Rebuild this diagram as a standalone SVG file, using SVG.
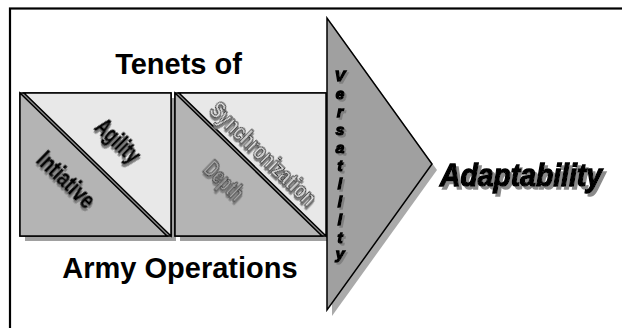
<svg xmlns="http://www.w3.org/2000/svg" width="622" height="328" viewBox="0 0 622 328">
<defs>
<filter id="sh" filterUnits="userSpaceOnUse" x="-100" y="-100" width="900" height="600">
<feOffset in="SourceAlpha" dx="2" dy="2" result="o"/>
<feFlood flood-color="#808080"/>
<feComposite in2="o" operator="in" result="s"/>
<feMerge><feMergeNode in="s"/><feMergeNode in="SourceGraphic"/></feMerge>
</filter>
<filter id="sh3" filterUnits="userSpaceOnUse" x="-100" y="-100" width="900" height="600">
<feOffset in="SourceAlpha" dx="3" dy="3" result="o"/>
<feFlood flood-color="#8a8a8a"/>
<feComposite in2="o" operator="in" result="s"/>
<feMerge><feMergeNode in="s"/><feMergeNode in="SourceGraphic"/></feMerge>
</filter>
</defs>
<style>
.title{font-family:"Liberation Sans",Arial,sans-serif;font-weight:bold;font-size:29px;fill:#000;text-anchor:middle}
.tri{font-family:"Liberation Sans",Arial,sans-serif;font-weight:bold;font-size:24px;text-anchor:middle}
.blk{fill:#000;stroke:#000;stroke-width:0.9}
.out1{fill:#e4e4e4;stroke:#222;stroke-width:1}
.out2{fill:#a8a8a8;stroke:#333;stroke-width:1}
.vers{font-family:"Liberation Sans",Arial,sans-serif;font-weight:bold;font-style:italic;font-size:15.5px;text-anchor:middle;fill:#000;stroke:#000;stroke-width:1.4}
.light{fill:#e8e8e8;stroke:#000;stroke-width:1.5}
.dark{fill:#b4b4b4;stroke:#000;stroke-width:1.5}
.shadow{fill:#a0a0a0}
</style>
<rect x="10" y="8.5" width="700" height="400" fill="#fff" stroke="#000" stroke-width="2.2"/>
<g id="title-top"><text class="title" x="178.5" y="74">Tenets of</text></g>
<g id="title-bottom"><text class="title" x="180" y="278">Army Operations</text></g>
<g id="square1">
<rect class="shadow" x="25" y="98" width="151" height="143"/>
<rect x="20" y="93" width="151" height="143" fill="#8c8c8c" stroke="#000" stroke-width="1.5"/>
<polygon class="dark" points="20,93 20,236 167,236"/>
<polygon class="light" points="24,93 171,93 171,236"/>
<g transform="translate(66,180) rotate(44)">
<text class="tri blk" x="0" y="8" textLength="70" lengthAdjust="spacingAndGlyphs" filter="url(#sh)">Intiative</text>
</g>
<g transform="translate(118,141) rotate(44)">
<text class="tri blk" x="0" y="8" textLength="52" lengthAdjust="spacingAndGlyphs" filter="url(#sh)">Agility</text>
</g>
</g>
<g id="square2">
<rect class="shadow" x="180" y="98" width="151" height="143"/>
<rect x="175" y="93" width="151" height="143" fill="#8c8c8c" stroke="#000" stroke-width="1.5"/>
<polygon class="dark" points="175,93 175,236 322,236"/>
<polygon class="light" points="179,93 326,93 326,236"/>
<g transform="translate(224,181) rotate(44)">
<text class="tri out2" x="0" y="8" textLength="46" lengthAdjust="spacingAndGlyphs" filter="url(#sh)">Depth</text>
</g>
<g transform="translate(263,154) rotate(44)">
<text class="tri out1" x="0" y="8" textLength="138" lengthAdjust="spacingAndGlyphs" filter="url(#sh)">Synchronization</text>
</g>
</g>
<g id="arrow">
<polygon points="332,24 332,316 437,170" fill="#aaaaaa"/>
<polygon points="327,18 327,310 432,164" fill="#a0a0a0" stroke="#000" stroke-width="1.5"/>
<text class="vers" filter="url(#sh)"><tspan x="340" y="81">V</tspan><tspan x="340" y="99">e</tspan><tspan x="340" y="117">r</tspan><tspan x="340" y="135">s</tspan><tspan x="340" y="153">a</tspan><tspan x="340" y="171">t</tspan><tspan x="340" y="189">i</tspan><tspan x="340" y="207">l</tspan><tspan x="340" y="225">i</tspan><tspan x="340" y="243">t</tspan><tspan x="340" y="259">y</tspan></text>
</g>
<g id="adaptability">
<text x="440" y="186" font-family="Liberation Sans,Arial,sans-serif" font-weight="bold" font-style="italic" font-size="32" fill="#000" stroke="#000" stroke-width="1.4" textLength="162" lengthAdjust="spacingAndGlyphs" filter="url(#sh3)">Adaptability</text>
</g>
<g id="connectors"></g>
</svg>
